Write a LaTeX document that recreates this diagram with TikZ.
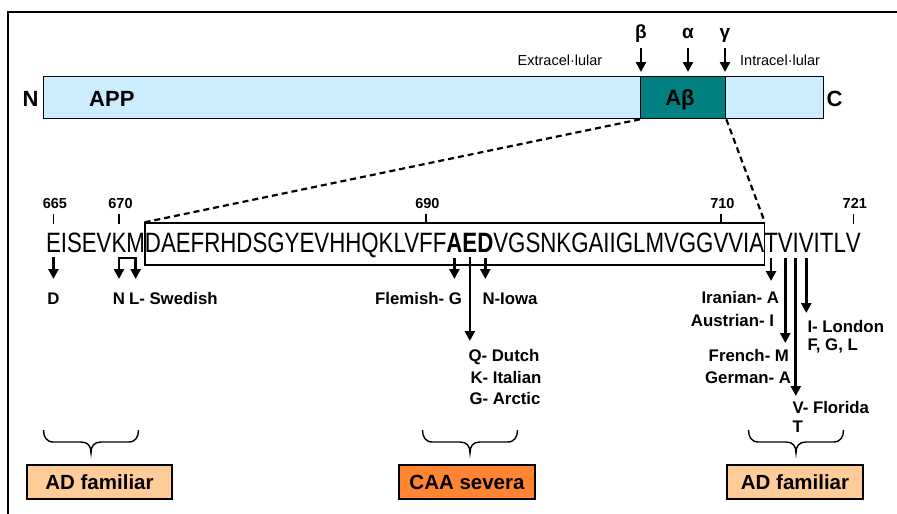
\documentclass[tikz,border=0pt]{standalone}
\usepackage{fontspec}
\setmainfont{Liberation Sans}
\newfontfamily\seqfont[FakeStretch=0.795]{Liberation Sans}
\usetikzlibrary{arrows.meta,fit,calc}
\definecolor{appblue}{HTML}{CCECFF}
\definecolor{abteal}{HTML}{008080}
\definecolor{lightorange}{HTML}{FFCC99}
\definecolor{darkorange}{HTML}{FF8533}
\begin{document}
\begin{tikzpicture}[x=1pt,y=-1pt,
  seq/.style={font=\seqfont\fontsize{28}{30}\selectfont, inner sep=0pt, outer sep=0pt, anchor=base west},
  lab/.style={font=\bfseries\fontsize{16.8}{19}\selectfont, inner sep=0pt, outer sep=0pt},
  big/.style={font=\bfseries\fontsize{22}{26}\selectfont, inner sep=0pt, anchor=base},
  greek/.style={font=\bfseries\fontsize{19}{22}\selectfont, inner sep=0pt, anchor=base, text depth=0pt},
  small/.style={font=\fontsize{14.5}{17}\selectfont, inner sep=0pt, anchor=base west},
  num/.style={font=\bfseries\fontsize{14.5}{17}\selectfont, inner sep=0pt, anchor=base},
  tickmark/.style={line width=1.4pt},
  arr/.style={line width=2.6pt, -{Triangle[width=10pt,length=10pt]}},
  dsh/.style={line width=2.2pt, dash pattern=on 6pt off 4pt},
  brc/.style={line width=1.4pt},
  groupbox/.style={draw, line width=1.6pt, minimum height=34pt, inner sep=0pt, font=\bfseries\fontsize{20.5}{24}\selectfont}
  ]
\useasboundingbox (0,0) rectangle (897,514);
% frame
\draw[line width=1.6pt] (8,514) -- (8,12) -- (897,12);

% APP bar
\node[draw, line width=1.3pt, fill=appblue, minimum width=780pt, minimum height=42pt, inner sep=0pt, anchor=north west] (app) at (43,76) {};
\node[draw, line width=1.3pt, fill=abteal, minimum width=85pt, minimum height=42pt, inner sep=0pt, anchor=north west] (abeta) at (640,76) {};
\node[big] (abtext) at (680,105.5) {Aβ};
\node[big, anchor=base west] (apptext) at (89,106) {APP};
\node[big] (nterm) at (30.5,106) {N};
\node[big] (cterm) at (834.5,106) {C};

\node[small] (extra) at (517.5,65.5) {Extracel·lular};
\node[small] (intra) at (740,65.5) {Intracel·lular};

% secretases
\node[greek] (beta) at (641,38) {β};
\node[greek] (alpha) at (688,38) {α};
\node[greek] (gamma) at (725,38) {γ};
\draw[arr, shorten <=10pt, shorten >=4pt] (beta.south) -- (beta.south |- abeta.north);
\draw[arr, shorten <=10pt, shorten >=4pt] (alpha.south) -- (alpha.south |- abeta.north);
\draw[arr, shorten <=10pt, shorten >=4pt] (gamma.south) -- (gamma.south |- abeta.north);

% sequence
\node[seq] (e665) at (46,252.5) {E};
\node[seq] (s1) at (e665.base east) {ISEV};
\node[seq] (k670) at (s1.base east) {K};
\node[seq] (m671) at (k670.base east) {M};
\node[seq] (s2) at (m671.base east) {DAEFRHDSGYEVHHQKLV};
\node[seq] (f690) at (s2.base east) {F};
\node[seq] (s2b) at (f690.base east) {F};
\node[seq] (a692) at (s2b.base east) {\bfseries A};
\node[seq] (e693) at (a692.base east) {\bfseries E};
\node[seq] (d694) at (e693.base east) {\bfseries D};
\node[seq] (s3) at (d694.base east) {VGSNKGAIIGLMVGG};
\node[seq] (v710) at (s3.base east) {V};
\node[seq] (s3b) at (v710.base east) {VIA};
\node[seq] (t714) at (s3b.base east) {T};
\node[seq] (v715) at (t714.base east) {V};
\node[seq] (i716) at (v715.base east) {I};
\node[seq] (v717) at (i716.base east) {V};
\node[seq] (s4) at (v717.base east) {ITL};
\node[seq] (v721) at (s4.base east) {V};

\node[draw, line width=1.3pt, inner sep=0pt, fit={(s2.west |- 0,223) (s3b.east |- 0,265)}] (seqbox) {};

% zoom lines
\draw[dsh] (abeta.south west) -- (seqbox.north west);
\draw[dsh] (abeta.south east) -- (seqbox.north east);

% position ticks and numbers
\foreach \r/\t in {e665/665, k670/670, f690/690, v710/710, v721/721}{
  \draw[tickmark] (\r.base |- 0,214) -- (\r.base |- 0,224);
  \node[num] (n\t) at ($(\r.base |- 0,208.5)+(1.5,0)$) {\t};
}

% mutation labels
\node[lab, anchor=base] (mD) at (e665.base |- 0,304) {D};
\node[lab, anchor=base] (mN) at (k670.base |- 0,304) {N};
\node[lab, anchor=base west] (mL) at (129,304) {L- Swedish};
\node[lab, anchor=base east] (mflem) at (462,304) {Flemish- G};
\node[lab, anchor=base west] (miowa) at (482.5,304) {N-Iowa};
\node[lab, anchor=base] (mdutch) at (504,361) {Q- Dutch};
\node[lab, anchor=base] (mital) at (506,383) {K- Italian};
\node[lab, anchor=base] (marct) at (505,404) {G- Arctic};
\node[lab, anchor=base east] (miran) at (779,303) {Iranian- A};
\node[lab, anchor=base east] (maustr) at (774,326) {Austrian- I};
\node[lab, anchor=base east] (mfrench) at (789,361) {French- M};
\node[lab, anchor=base east] (mgerman) at (791,383) {German- A};
\node[lab, anchor=base west] (mflor) at (792.5,413) {V- Florida};
\node[lab, anchor=base west] (mT) at (792.5,432) {T};
\node[lab, anchor=base west] (mlond) at (807.5,332) {I- London};
\node[lab, anchor=base west] (mfgl) at (807.5,350) {F, G, L};

% mutation arrows
\draw[arr] (e665.base |- 0,257) -- (e665.base |- 0,279);
\draw[line width=2.6pt, {Triangle[width=10pt,length=10pt]}-{Triangle[width=10pt,length=10pt]}]
  (k670.base |- 0,279) -- (k670.base |- 0,258) -- (m671.base |- 0,258) -- (m671.base |- 0,279);
\draw[arr] (a692.base |- 0,258) -- (a692.base |- 0,279);
\draw[arr] (d694.base |- 0,258) -- (d694.base |- 0,279);
\draw[arr] (e693.base |- 0,257) -- (e693.base |- 0,341);
\draw[arr] (t714.base |- 0,258) -- (t714.base |- 0,281);
\draw[arr] (v715.base |- 0,258) -- (v715.base |- 0,343);
\draw[arr] (i716.base |- 0,258) -- (i716.base |- 0,396);
\draw[arr] (v717.base |- 0,258) -- (v717.base |- 0,313);

% braces
\foreach \cx in {91,470,796}{
  \begin{scope}[shift={(\cx,430)}]
    \draw[brc] (-47.5,0) .. controls (-47.5,7) and (-44.5,12) .. (-37.5,12) -- (-10,12)
      .. controls (-3,12) and (0,16) .. (0,23) .. controls (0,16) and (3,12) .. (10,12)
      -- (37.5,12) .. controls (44.5,12) and (47.5,7) .. (47.5,0);
  \end{scope}
}

% group boxes
\node[groupbox, fill=lightorange, minimum width=145pt] (ad1) at (99.5,482) {AD familiar};
\node[groupbox, fill=darkorange, minimum width=136pt] (caa) at (467,482) {CAA severa};
\node[groupbox, fill=lightorange, minimum width=136pt] (ad2) at (795,482) {AD familiar};
\end{tikzpicture}
\end{document}
